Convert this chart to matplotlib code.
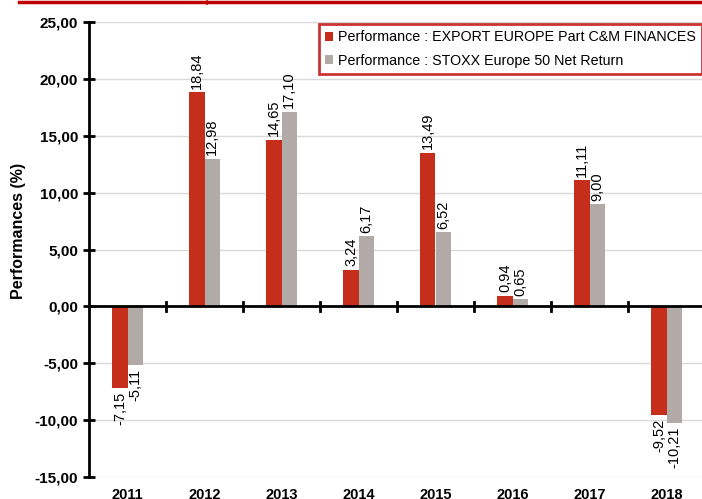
import matplotlib
matplotlib.use("Agg")
import matplotlib.pyplot as plt
from matplotlib.lines import Line2D
from matplotlib.patches import Patch
import numpy as np

years = ["2011", "2012", "2013", "2014", "2015", "2016", "2017", "2018"]
fund = [-7.15, 18.84, 14.65, 3.24, 13.49, 0.94, 11.11, -9.52]
index = [-5.11, 12.98, 17.10, 6.17, 6.52, 0.65, 9.00, -10.21]
series_names = ["Performance : EXPORT EUROPE Part C&M FINANCES",
                "Performance : STOXX Europe 50 Net Return"]
yticks = [-15, -10, -5, 0, 5, 10, 15, 20, 25]

RED = "#C42E1A"
GREY = "#B2AAA7"

plt.rcParams["font.family"] = ["Liberation Sans", "DejaVu Sans"]

W, H = 702, 499
fig = plt.figure(figsize=(W / 100, H / 100), dpi=100)
ax = fig.add_axes([89 / W, (499 - 477) / H, 616 / W, 455 / H])

x = np.arange(len(years))
bw = 0.195
b1 = ax.bar(x - bw / 2, fund, bw, color=RED, zorder=3)
b2 = ax.bar(x + bw / 2, index, bw, color=GREY, zorder=3)

ax.set_xlim(-0.5, len(years) - 0.5)
ax.set_ylim(-15, 25)

def fmt(v):
    return f"{v:.2f}".replace(".", ",")

for bars, vals in ((b1, fund), (b2, index)):
    for rect, v in zip(bars, vals):
        cx = rect.get_x() + rect.get_width() / 2
        if v >= 0:
            ax.annotate(fmt(v), (cx, v), xytext=(0, 2.5), textcoords="offset points",
                        rotation=90, ha="center", va="bottom", fontsize=10.5, zorder=4)
        else:
            ax.annotate(fmt(v), (cx, v), xytext=(0, -3), textcoords="offset points",
                        rotation=90, ha="center", va="top", fontsize=10.5, zorder=4)

# grid
for t in yticks:
    if t != 0:
        ax.axhline(t, color="#D9D9D9", lw=1, zorder=1)
ax.axhline(0, color="black", lw=2, zorder=5)

# category separators on zero line
for b in x[:-1] + 0.5:
    ax.plot([b, b], [-0.4, 0.4], color="black", lw=2, zorder=5, clip_on=False)

for s in ("top", "right", "bottom"):
    ax.spines[s].set_visible(False)
ax.spines["left"].set_linewidth(2)
ax.spines["left"].set_zorder(6)

ax.set_yticks(yticks)
ax.set_yticklabels([fmt(t) for t in yticks], fontsize=11, fontweight="bold")
ax.tick_params(axis="y", direction="inout", length=8, width=2, pad=4)
ax.set_xticks(x)
ax.set_xticklabels(years, fontsize=10.5, fontweight="bold")
ax.tick_params(axis="x", length=0, pad=8)

fig.text(19 / W, 1 - 231 / H, "Performances (%)", rotation=90, ha="center", va="center",
         fontsize=11.5, fontweight="bold")

handles = [Patch(facecolor=RED, edgecolor="none"), Patch(facecolor=GREY, edgecolor="none")]
leg = fig.legend(handles, series_names, loc="upper left",
                 bbox_to_anchor=(319 / W, 1 - 24 / H), bbox_transform=fig.transFigure,
                 fontsize=10.3, frameon=True, fancybox=False, handlelength=0.55, handleheight=0.55,
                 handletextpad=0.3, borderpad=0.45, labelspacing=0.65, borderaxespad=0)
leg.get_frame().set_edgecolor("#C00000")
leg.get_frame().set_linewidth(2)

# top red line
fig.add_artist(Line2D([19 / W, 1], [1 - 1.5 / H, 1 - 1.5 / H], color="#C00000", lw=2.5,
                      transform=fig.transFigure))
fig.add_artist(Line2D([207 / W, 207 / W], [1 - 1 / H, 1 - 4 / H], color="#C00000", lw=1.2,
                      transform=fig.transFigure))

fig.savefig("out.png", dpi=100)
